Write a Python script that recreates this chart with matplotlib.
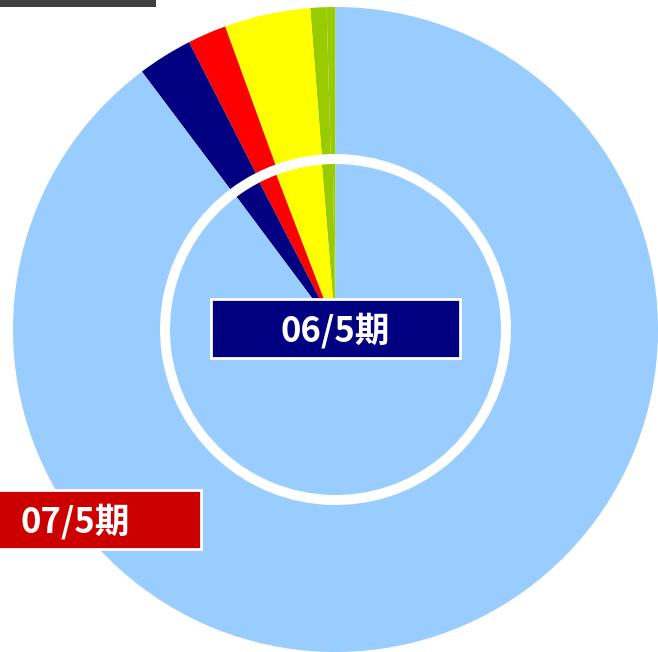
import matplotlib.pyplot as plt
from matplotlib.patches import Rectangle

plt.rcParams['font.family'] = ['Noto Sans CJK JP', 'DejaVu Sans']

# segments, counterclockwise from 12 o'clock
segments = ['区分1', '区分2', '区分3', '区分4', '区分5', 'その他']
colors = ['#99CC00', '#99CC00', '#FFFF00', '#FF0000', '#000080', '#99CCFF']
inner_name = '06/5期'
outer_name = '07/5期'
inner_vals = [0.25, 1.06, 4.5, 1.78, 2.61, 89.8]
outer_vals = [0.44, 0.81, 4.31, 1.94, 2.75, 89.75]

W, H = 658, 652
fig = plt.figure(figsize=(W / 100, H / 100), dpi=100)
ax = fig.add_axes([0, 0, 1, 1])

cx, cy = 335.5, H - 329.5
r_out = 322.5
r_gap = 175.5
r_in = 165.5

ax.pie(outer_vals, colors=colors, startangle=90, counterclock=True,
       center=(cx, cy), radius=r_out,
       wedgeprops=dict(width=r_out - r_gap, linewidth=0))
ax.pie(inner_vals, colors=colors, startangle=90, counterclock=True,
       center=(cx, cy), radius=r_in,
       wedgeprops=dict(linewidth=0))

ax.set_xlim(0, W)
ax.set_ylim(0, H)
ax.set_aspect('equal')
ax.axis('off')

# series label boxes
ax.add_patch(Rectangle((211, H - 358), 249, 59, facecolor='#000080',
                       edgecolor='white', linewidth=2, zorder=5))
ax.text(335.5, H - 331, inner_name, color='white', fontsize=25,
        fontweight='bold', ha='center', va='center', zorder=6)

ax.add_patch(Rectangle((-5, H - 549), 206, 59, facecolor='#CC0000',
                       edgecolor='white', linewidth=2, zorder=5))
ax.text(21, H - 522, outer_name, color='white', fontsize=25,
        fontweight='bold', ha='left', va='center', zorder=6)

# cut-off title box at the top-left
ax.add_patch(Rectangle((-2, H - 6.5), 158, 10, facecolor='#3F3F3F',
                       edgecolor='none', zorder=5, clip_on=False))

fig.savefig('out.png', dpi=100)
